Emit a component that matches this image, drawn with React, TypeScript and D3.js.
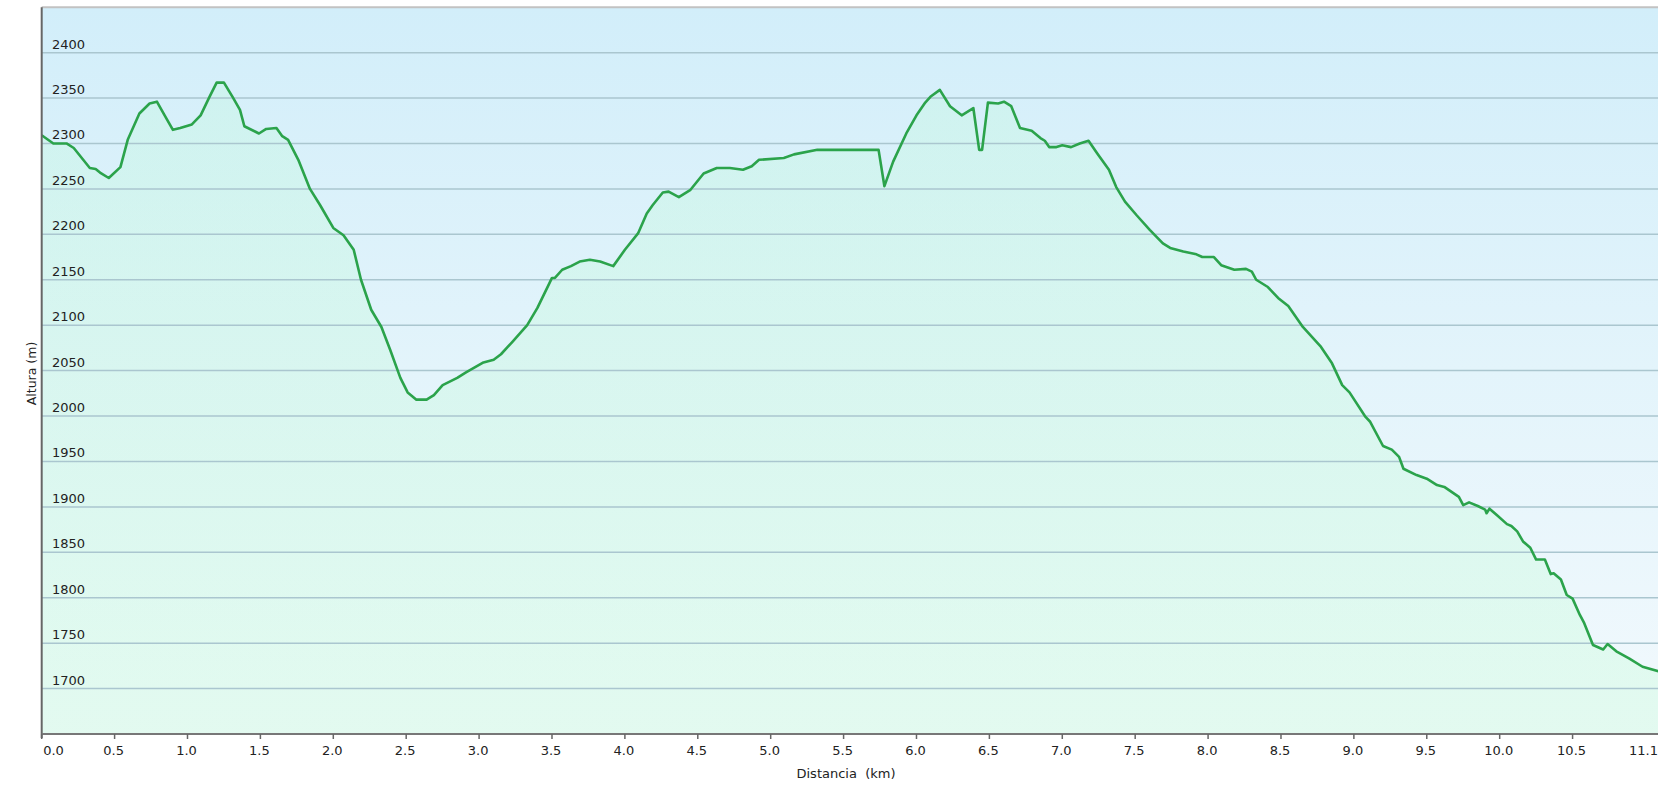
import * as React from 'react';
import * as d3 from 'd3';

// perfil de altura: distancia (km) / altura (m)
const distKm = [
  0.00, 0.08, 0.17, 0.22, 0.33, 0.37, 0.40, 0.46, 0.54, 0.59, 0.67, 0.74, 0.79, 0.85, 0.90, 0.95,
  1.03, 1.09, 1.15, 1.20, 1.25, 1.31, 1.36, 1.39, 1.49, 1.54, 1.61, 1.65, 1.69, 1.76, 1.84, 1.91,
  2.00, 2.07, 2.14, 2.19, 2.26, 2.33, 2.39, 2.46, 2.51, 2.57, 2.64, 2.69, 2.75, 2.85, 2.91,
  3.03, 3.10, 3.15, 3.23, 3.33, 3.40, 3.50, 3.52, 3.57, 3.63, 3.69, 3.76, 3.83, 3.92,
  4.00, 4.09, 4.15, 4.19, 4.26, 4.30, 4.37, 4.45, 4.54, 4.63, 4.72, 4.81, 4.87, 4.92,
  5.09, 5.16, 5.32, 5.43, 5.74, 5.78, 5.84, 5.93,
  6.00, 6.06, 6.10, 6.16, 6.23, 6.31, 6.39, 6.43, 6.45, 6.49, 6.56, 6.60, 6.65, 6.71, 6.79, 6.85, 6.88, 6.91, 6.96,
  7.00, 7.06, 7.12, 7.18, 7.24, 7.32, 7.37, 7.43, 7.51, 7.60, 7.69, 7.74, 7.83, 7.92, 7.96,
  8.04, 8.09, 8.18, 8.26, 8.30, 8.33, 8.41, 8.48, 8.55, 8.65, 8.77, 8.85, 8.92, 8.97,
  9.08, 9.11, 9.20, 9.26, 9.31, 9.34, 9.43, 9.50, 9.57, 9.62, 9.72, 9.75, 9.79, 9.85, 9.90, 9.91, 9.93, 9.98,
  10.05, 10.08, 10.12, 10.16, 10.21, 10.25, 10.31, 10.35, 10.37, 10.42, 10.46, 10.50, 10.55, 10.58, 10.64,
  10.71, 10.74, 10.80, 10.89, 10.98, 11.09,
];
const altM = [
  2309, 2300, 2300, 2295, 2273, 2272, 2268, 2262, 2274, 2304, 2333, 2344, 2346, 2329, 2315, 2317,
  2321, 2331, 2351, 2367, 2367, 2351, 2337, 2319, 2311, 2316, 2317, 2308, 2304, 2282, 2250, 2232,
  2207, 2199, 2183, 2150, 2117, 2098, 2073, 2042, 2026, 2018, 2018, 2023, 2034, 2042, 2048,
  2059, 2062, 2068, 2082, 2100, 2119, 2152, 2152, 2161, 2165, 2170, 2172, 2170, 2165,
  2183, 2201, 2223, 2232, 2246, 2247, 2241, 2249, 2267, 2273, 2273, 2271, 2275, 2282,
  2284, 2288, 2293, 2293, 2293, 2253, 2280, 2311,
  2331, 2345, 2352, 2359, 2341, 2331, 2339, 2293, 2293, 2345, 2344, 2346, 2341, 2317, 2314, 2306, 2303, 2296, 2296,
  2298, 2296, 2300, 2303, 2289, 2271, 2252, 2236, 2221, 2205, 2190, 2185, 2181, 2178, 2175,
  2175, 2166, 2161, 2162, 2159, 2150, 2142, 2130, 2121, 2098, 2077, 2058, 2034, 2026,
  1999, 1994, 1967, 1963, 1955, 1942, 1935, 1931, 1924, 1922, 1911, 1902, 1905, 1901, 1897, 1893, 1898, 1891,
  1881, 1879, 1873, 1862, 1855, 1842, 1842, 1826, 1827, 1820, 1803, 1799, 1781, 1772, 1748,
  1743, 1749, 1741, 1733, 1724, 1719,
];

const yTicks = [1700, 1750, 1800, 1850, 1900, 1950, 2000, 2050, 2100, 2150, 2200, 2250, 2300, 2350, 2400];
const xTicks = [0, 0.5, 1, 1.5, 2, 2.5, 3, 3.5, 4, 4.5, 5, 5.5, 6, 6.5, 7, 7.5, 8, 8.5, 9, 9.5, 10, 10.5, 11];
const xTickLabels = ['0.0', '0.5', '1.0', '1.5', '2.0', '2.5', '3.0', '3.5', '4.0', '4.5', '5.0', '5.5',
  '6.0', '6.5', '7.0', '7.5', '8.0', '8.5', '9.0', '9.5', '10.0', '10.5', '11.1'];

const W = 1658;
const H = 789;
const left = 41.7;
const right = 1658.6;
const top = 7.2;
const bottom = 734;
const font = '"DejaVu Sans", Verdana, sans-serif';

export default function App() {
  const x = d3.scaleLinear().domain([0, 11.09]).range([left, right]);
  const y = d3.scaleLinear().domain([1650, 2450]).range([bottom, top]);
  const pts: [number, number][] = distKm.map((d, i) => [d, altM[i]]);

  const line = d3.line<[number, number]>()
    .x(d => x(d[0]))
    .y(d => y(d[1]));
  const area = d3.area<[number, number]>()
    .x(d => x(d[0]))
    .y0(bottom)
    .y1(d => y(d[1]));

  return (
    <div style={{ position: 'absolute', left: 0, top: 0 }}>
      <svg width={W} height={H} style={{ display: 'block', background: '#fff' }}>
        <defs>
          <linearGradient id="bg" x1="0" y1="0" x2="0" y2="1">
            <stop offset="0" stopColor="#d2eefa" />
            <stop offset="0.5" stopColor="#e3f4fb" />
            <stop offset="1" stopColor="#f2f9fd" />
          </linearGradient>
          <linearGradient id="fill" x1="0" y1="0" x2="0" y2="1">
            <stop offset="0" stopColor="#b4ffc8" stopOpacity={0.2} />
            <stop offset="1" stopColor="#b4ffc8" stopOpacity={0.25} />
          </linearGradient>
        </defs>

        <rect x={left} y={top} width={W - left} height={bottom - top} fill="url(#bg)" />
        <path d={area(pts) ?? ''} fill="url(#fill)" />

        {yTicks.map(t => (
          <line key={t} x1={left} x2={W} y1={y(t)} y2={y(t)} stroke="#aac6cf" strokeWidth={1.5} />
        ))}
        <line x1={left} x2={W} y1={top} y2={top} stroke="#c2c2c2" strokeWidth={2} />

        <path d={line(pts) ?? ''} fill="none" stroke="#2ba34b" strokeWidth={2.6} strokeLinejoin="round" />

        {yTicks.map(t => (
          <text key={t} x={52} y={y(t) - 4} fontFamily={font} fontSize={13} fill="#222">{t}</text>
        ))}

        <line x1={left} x2={left} y1={top} y2={bottom + 4} stroke="#666" strokeWidth={2} />
        <line x1={left} x2={W} y1={bottom} y2={bottom} stroke="#777" strokeWidth={2} />

        {xTicks.map((t, i) => {
          const last = i === xTicks.length - 1;
          const first = i === 0;
          return (
            <g key={t}>
              {!last && <line x1={x(t)} x2={x(t)} y1={bottom} y2={bottom + 5} stroke="#666" strokeWidth={1.5} />}
              <text
                x={first ? x(t) + 1.5 : last ? W : x(t) - 1}
                y={755}
                textAnchor={first ? 'start' : last ? 'end' : 'middle'}
                fontFamily={font}
                fontSize={13}
                fill="#222"
              >
                {xTickLabels[i]}
              </text>
            </g>
          );
        })}

        <text x={846} y={778} textAnchor="middle" fontFamily={font} fontSize={13} fill="#222"
          style={{ whiteSpace: 'pre' }}>
          {'Distancia  (km)'}
        </text>
        <text transform={`translate(36, 373.5) rotate(-90)`} textAnchor="middle" fontFamily={font}
          fontSize={12.5} fill="#222">
          Altura (m)
        </text>
      </svg>
    </div>
  );
}
